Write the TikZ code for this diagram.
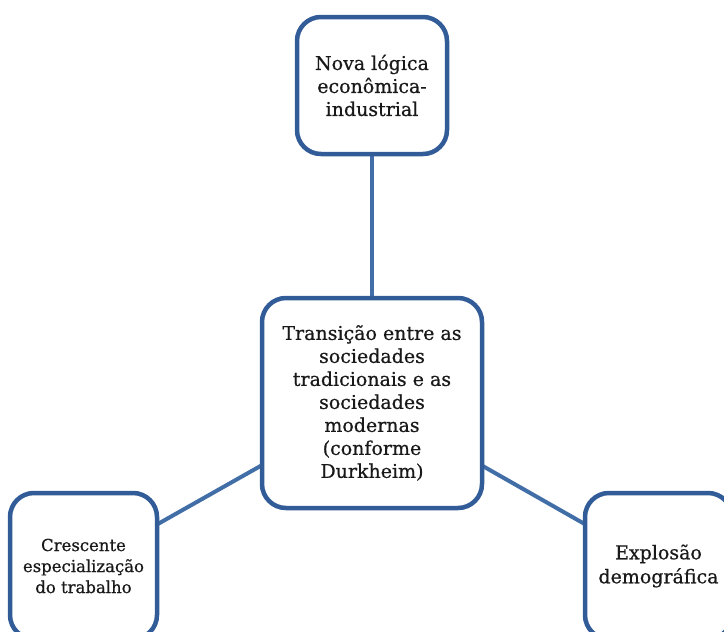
\documentclass[tikz,border=0pt]{standalone}
\usepackage{fontspec}
\setmainfont{DejaVu Serif}[FakeBold=0.6]
\usetikzlibrary{backgrounds}
\definecolor{boxblue}{RGB}{50,92,152}
\definecolor{linkblue}{RGB}{66,110,168}
\begin{document}
\begin{tikzpicture}[x=1pt,y=-1pt,
  box/.style={draw=boxblue, line width=4.5pt, fill=white, rounded corners=24pt,
    align=center, inner sep=0pt, text=black!90},
  link/.style={draw=linkblue, line width=4pt}]
\useasboundingbox (0,0) rectangle (724,632);
\clip (0,0) rectangle (724,632);
\node[box, minimum width=150pt, minimum height=137pt,
  font=\fontsize{19}{23}\selectfont] (top) at (372,85.5)
  {Nova lógica\\econômica-\\industrial};
\node[box, minimum width=220pt, minimum height=210pt,
  font=\fontsize{19}{23}\selectfont] (center) at (372,403)
  {Transição entre as\\sociedades\\tradicionais e as\\sociedades\\modernas\\(conforme\\Durkheim)};
\node[box, minimum width=147pt, minimum height=146pt,
  font=\fontsize{16.5}{21}\selectfont] (left) at (83.5,566)
  {Crescente\\especialização\\do trabalho};
\node[box, minimum width=147pt, minimum height=146pt,
  font=\fontsize{19}{24}\selectfont] (right) at (658.5,566)
  {Explosão\\demográfica};
\begin{scope}[on background layer]
\draw[link] (top.center) -- (center.center);
\draw[link] (left.center) -- (center.center);
\draw[link] (right.center) -- (center.center);
\end{scope}
\end{tikzpicture}
\end{document}
